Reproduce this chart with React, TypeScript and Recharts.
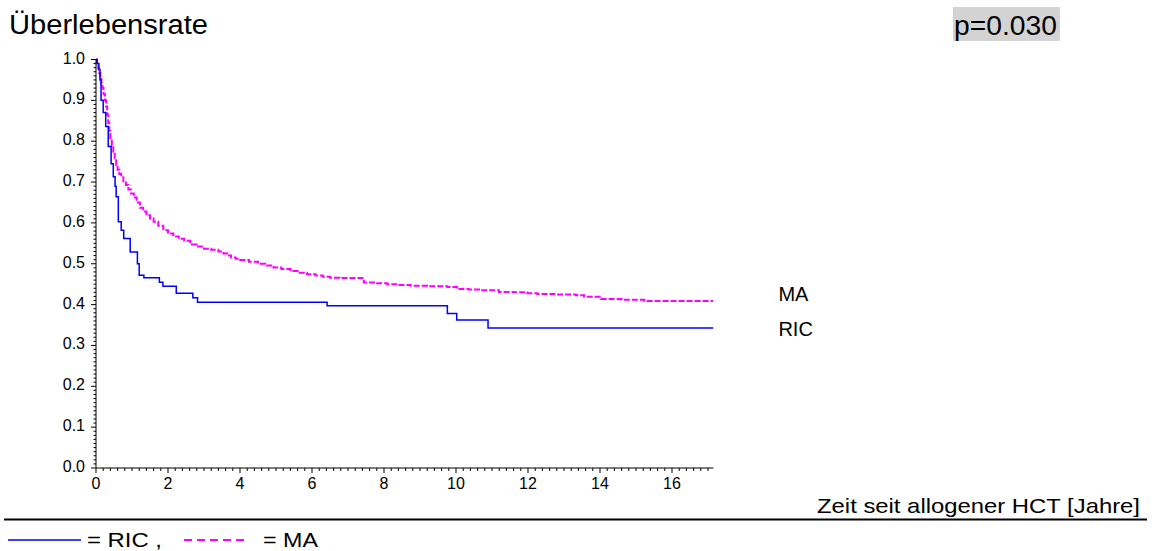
import { LineChart, Line, XAxis, YAxis } from "recharts";

// Kaplan-Meier estimates, time in years since allogeneic HCT
const ricTime = [0, 0.03, 0.08, 0.11, 0.14, 0.2, 0.27, 0.34, 0.42, 0.48, 0.53, 0.56, 0.62, 0.7, 0.77, 0.95, 1.15, 1.2, 1.33, 1.76, 1.86, 2.23, 2.69, 2.82, 6.42, 9.76, 10.02, 10.89, 17.15];
const ricSurv = [1.0, 0.99, 0.975, 0.95, 0.9, 0.87, 0.836, 0.787, 0.745, 0.713, 0.69, 0.664, 0.603, 0.582, 0.562, 0.529, 0.5, 0.472, 0.466, 0.455, 0.445, 0.428, 0.417, 0.406, 0.397, 0.378, 0.362, 0.343, 0.343];

const maTime = [0, 0.03, 0.06, 0.09, 0.12, 0.15, 0.18, 0.21, 0.25, 0.28, 0.31, 0.34, 0.37, 0.4, 0.44, 0.48, 0.52, 0.56, 0.6, 0.65, 0.7, 0.76, 0.83, 0.9, 0.97, 1.05, 1.13, 1.22, 1.31, 1.4, 1.5, 1.6, 1.73, 1.87, 2.0, 2.15, 2.3, 2.45, 2.62, 2.8, 3.0, 3.2, 3.4, 3.54, 3.65, 3.75, 3.88, 4.0, 4.25, 4.5, 4.7, 4.93, 5.15, 5.4, 5.6, 5.86, 6.1, 6.3, 6.5, 6.77, 7.1, 7.44, 7.8, 8.09, 8.4, 8.74, 9.2, 9.76, 10.03, 10.35, 10.68, 11.19, 11.6, 11.98, 12.26, 12.8, 13.33, 13.56, 14.02, 14.6, 15.23, 17.15];
const maSurv = [1.0, 0.99, 0.978, 0.967, 0.955, 0.94, 0.93, 0.915, 0.9, 0.885, 0.865, 0.845, 0.825, 0.805, 0.79, 0.775, 0.758, 0.742, 0.73, 0.72, 0.712, 0.702, 0.693, 0.682, 0.672, 0.662, 0.65, 0.637, 0.628, 0.619, 0.611, 0.603, 0.593, 0.582, 0.574, 0.567, 0.561, 0.556, 0.547, 0.542, 0.537, 0.534, 0.53, 0.525, 0.52, 0.515, 0.512, 0.509, 0.505, 0.5, 0.496, 0.491, 0.487, 0.482, 0.478, 0.474, 0.471, 0.468, 0.466, 0.465, 0.465, 0.454, 0.452, 0.45, 0.448, 0.446, 0.445, 0.443, 0.438, 0.437, 0.435, 0.431, 0.43, 0.428, 0.426, 0.425, 0.423, 0.419, 0.414, 0.412, 0.409, 0.409];

const xLabels = [0, 2, 4, 6, 8, 10, 12, 14, 16];
const yLabels = [0.0, 0.1, 0.2, 0.3, 0.4, 0.5, 0.6, 0.7, 0.8, 0.9, 1.0];
const xMinorStep = 0.2;
const yMinorStep = 0.01;
const xMax = 17.15;

const ricData = ricTime.map((t, i) => ({ t, s: ricSurv[i] }));
const maData = maTime.map((t, i) => ({ t, s: maSurv[i] }));

const xTicks = Array.from({ length: Math.floor(17 / xMinorStep) + 1 }, (_, i) => +(i * xMinorStep).toFixed(1));
const yTicks = Array.from({ length: Math.round(1 / yMinorStep) + 1 }, (_, i) => +(i * yMinorStep).toFixed(2));

const FONT = "'Liberation Sans', Arial, Helvetica, sans-serif";

const isLabelled = (list: number[], v: number) => list.some((l) => Math.abs(l - v) < 1e-6);

function XTick(props: any) {
  const { x, y, payload } = props;
  const major = isLabelled(xLabels, payload.value);
  return (
    <g>
      <line x1={x} x2={x} y1={y} y2={y + (major ? 5 : 3)} stroke="#000" strokeWidth={1} />
      {major && (
        <text x={x} y={y + 21} textAnchor="middle" fontSize={16} fontFamily={FONT} fill="#000">
          {payload.value}
        </text>
      )}
    </g>
  );
}

function YTick(props: any) {
  const { x, y, payload } = props;
  const major = isLabelled(yLabels, payload.value);
  return (
    <g>
      <line x1={x - (major ? 5 : 2.5)} x2={x} y1={y} y2={y} stroke="#000" strokeWidth={1} />
      {major && (
        <text x={x - 11} y={y + 4} textAnchor="end" fontSize={16} fontFamily={FONT} fill="#000">
          {payload.value.toFixed(1)}
        </text>
      )}
    </g>
  );
}

// name printed to the right of each curve's last point
const endLabel = (name: string, dy: number, lastIndex: number) => (props: any) => {
  const { x, y, index } = props;
  if (index !== lastIndex) return null;
  return (
    <text x={x + 65} y={y + dy} fontSize={20} fontFamily={FONT} fill="#000">
      {name}
    </text>
  );
};

export default function App() {
  return (
    <div style={{ position: "absolute", left: 0, top: 0, width: 1152, height: 551, background: "#fff" }}>
      <LineChart
        width={1152}
        height={551}
        margin={{ top: 59.5, right: 1152 - 713.4, bottom: 53, left: 56 }}
      >
        <XAxis
          type="number"
          dataKey="t"
          domain={[0, xMax]}
          ticks={xTicks}
          interval={0}
          height={30}
          tickSize={0}
          tickMargin={0}
          tickLine={false}
          axisLine={{ stroke: "#000", strokeWidth: 1 }}
          tick={<XTick />}
          allowDataOverflow
        />
        <YAxis
          type="number"
          dataKey="s"
          domain={[0, 1]}
          ticks={yTicks}
          interval={0}
          width={40}
          tickSize={0}
          tickMargin={0}
          tickLine={false}
          axisLine={{ stroke: "#000", strokeWidth: 1 }}
          tick={<YTick />}
        />
        <Line
          data={maData}
          dataKey="s"
          type="stepAfter"
          stroke="#ff00ff"
          strokeWidth={2}
          strokeDasharray="6 2"
          dot={false}
          isAnimationActive={false}
          label={endLabel("MA", 0, maData.length - 1)}
        />
        <Line
          data={ricData}
          dataKey="s"
          type="stepAfter"
          stroke="#0000ff"
          strokeWidth={1.5}
          dot={false}
          isAnimationActive={false}
          label={endLabel("RIC", 8, ricData.length - 1)}
        />
      </LineChart>

      <svg
        width={1152}
        height={551}
        style={{ position: "absolute", left: 0, top: 0, pointerEvents: "none" }}
        fontFamily={FONT}
      >
        <text x={9} y={34} fontSize={27} textLength={199} lengthAdjust="spacingAndGlyphs" fill="#000">
          Überlebensrate
        </text>
        <rect x={953} y={7} width={107} height={34} fill="#d3d3d3" />
        <text x={954} y={35} fontSize={27} textLength={103} lengthAdjust="spacingAndGlyphs" fill="#000">
          p=0.030
        </text>
        <text x={817} y={513} fontSize={21} textLength={323} lengthAdjust="spacingAndGlyphs" fill="#000">
          Zeit seit allogener HCT [Jahre]
        </text>
        <line x1={4} x2={1147} y1={519.5} y2={519.5} stroke="#000" strokeWidth={2} />
        <line x1={8} x2={81} y1={540} y2={540} stroke="#0000ff" strokeWidth={1.5} />
        <text x={87} y={547} fontSize={21} textLength={75} lengthAdjust="spacingAndGlyphs" fill="#000">
          = RIC ,
        </text>
        <line x1={184} x2={249} y1={540} y2={540} stroke="#ff00ff" strokeWidth={2} strokeDasharray="8 5" />
        <text x={263} y={547} fontSize={21} textLength={55} lengthAdjust="spacingAndGlyphs" fill="#000">
          = MA
        </text>
      </svg>
    </div>
  );
}
